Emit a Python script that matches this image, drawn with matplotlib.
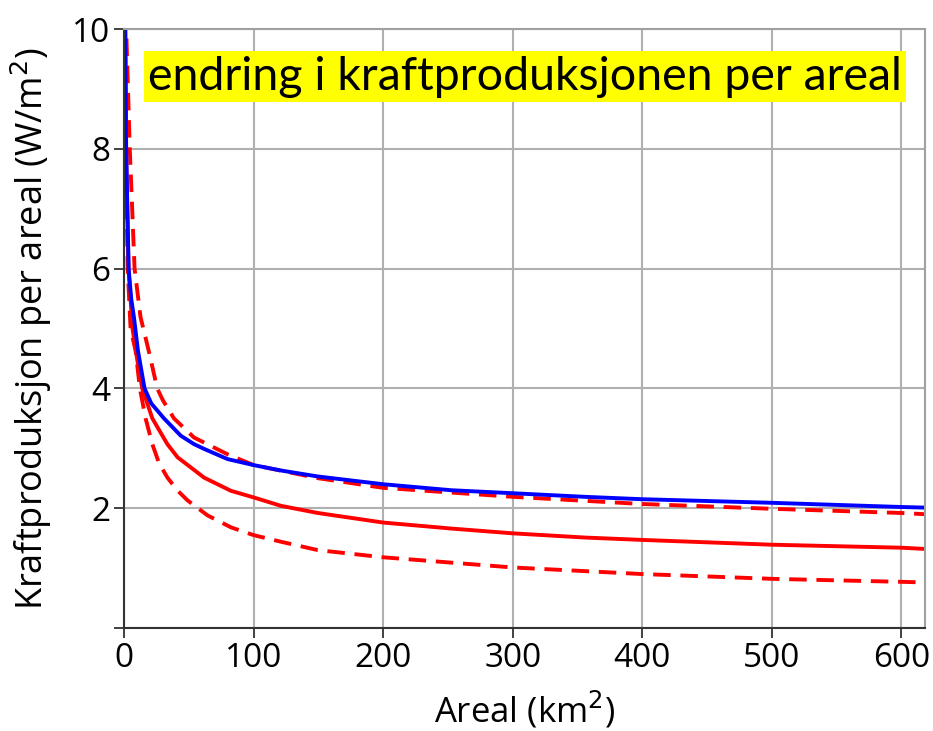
import numpy as np
import matplotlib.pyplot as plt

# Values (area in km2, power per area in W/m2)
blue_x = [0.8, 1.6, 3.5, 5.5, 7.6, 10.7, 15.8, 21.0, 30.8, 43.8, 54.0, 61.8, 79.9, 100, 121,
          149.5, 200, 252.5, 300, 355.5, 400, 500, 600, 618]
blue_y = [10.3, 8.0, 6.0, 5.5, 5.19, 4.63, 4.0, 3.75, 3.5, 3.21, 3.07, 2.99, 2.82, 2.72, 2.63,
          2.53, 2.40, 2.30, 2.25, 2.19, 2.15, 2.09, 2.02, 2.01]

red_solid_x = [0.8, 1.5, 3.4, 6.5, 10.0, 14.0, 21.8, 33.4, 41.3, 61.8, 82.5, 100, 121,
               149.5, 200, 252.5, 300, 355.5, 400, 500, 600, 618]
red_solid_y = [10.3, 8.0, 6.0, 5.0, 4.5, 4.0, 3.5, 3.07, 2.85, 2.51, 2.29, 2.18, 2.04,
               1.92, 1.76, 1.66, 1.58, 1.51, 1.47, 1.39, 1.34, 1.32]

red_hi_x = [1.2, 4.4, 8.1, 12.7, 19.0, 25.6, 30.0, 38.5, 54.0, 79.9, 100, 150, 200, 300,
            400, 500, 600, 618]
red_hi_y = [10.3, 8.0, 6.0, 5.19, 4.63, 4.0, 3.8, 3.5, 3.18, 2.90, 2.72, 2.50, 2.34, 2.19,
            2.07, 1.99, 1.92, 1.90]

red_lo_x = [0.6, 1.2, 2.8, 5.0, 8.9, 12.2, 16.6, 21.8, 27.0, 33.5, 41.0, 49.0, 64.4, 82.5,
            100, 121, 149.5, 200, 300, 400, 500, 600, 618]
red_lo_y = [10.3, 8.0, 6.0, 5.0, 4.63, 4.0, 3.5, 3.07, 2.75, 2.51, 2.30, 2.13, 1.88, 1.68,
            1.55, 1.44, 1.30, 1.18, 1.01, 0.90, 0.82, 0.77, 0.76]

plt.rcParams['font.family'] = ['Open Sans', 'DejaVu Sans']

fig = plt.figure(figsize=(9.33, 7.31), dpi=100)
ax = fig.add_axes([0.133, 0.141, 0.858, 0.819])

dash = (0, (4.5, 2.5))
ax.plot(red_lo_x, red_lo_y, color='red', lw=2.8, ls=dash)
ax.plot(red_hi_x, red_hi_y, color='red', lw=2.8, ls=dash)
ax.plot(red_solid_x, red_solid_y, color='red', lw=2.8)
ax.plot(blue_x, blue_y, color='blue', lw=2.8)

ax.set_xlim(0, 618)
ax.set_ylim(0, 10)
ax.set_xticks([0, 100, 200, 300, 400, 500, 600])
ax.set_yticks([0, 2, 4, 6, 8, 10])
ax.set_yticklabels(['', '2', '4', '6', '8', '10'])
ax.grid(color='#b0b0b0', lw=1.5)
ax.set_axisbelow(True)
ax.tick_params(labelsize=24, length=7, width=1.3, color='#333333', pad=3)
for side in ['left', 'bottom']:
    ax.spines[side].set_color('#333333')
    ax.spines[side].set_linewidth(1.5)
for side in ['top', 'right']:
    ax.spines[side].set_color('#a0a0a0')
    ax.spines[side].set_linewidth(1.5)

ax.set_xlabel('Areal (km$^2$)', fontsize=25)
ax.set_ylabel('Kraftproduksjon per areal (W/m$^2$)', fontsize=26)
ax.xaxis.set_label_coords(0.5, -0.102)
ax.yaxis.set_label_coords(-0.087, 0.5)

ax.text(0.03, 0.921, 'endring i kraftproduksjonen per areal', transform=ax.transAxes,
        fontsize=33.5, family=['Lato', 'DejaVu Sans'], va='center', ha='left',
        bbox=dict(facecolor='yellow', edgecolor='none', pad=3))

fig.savefig('out.png', dpi=100)
